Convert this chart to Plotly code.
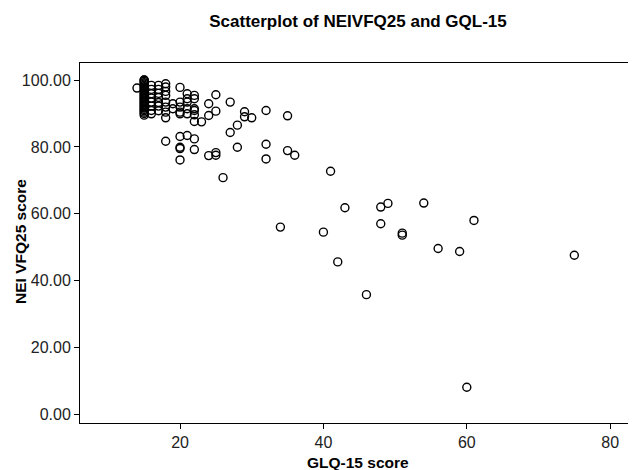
import plotly.graph_objects as go

# GLQ-15 score (x) and NEI VFQ25 score (y)
glq15 = (
    [14]
    + [15] * 28
    + [16] * 8
    + [17] * 7
    + [18] * 9
    + [19] * 2
    + [20] * 9
    + [21] * 6
    + [22] * 8
    + [23]
    + [24] * 3
    + [25] * 4
    + [26]
    + [27] * 2
    + [28] * 2
    + [29] * 2
    + [30]
    + [32] * 3
    + [34]
    + [35] * 2
    + [36]
    + [40, 41, 42, 43, 46, 48, 48, 49, 51, 51, 54, 56, 59, 60, 61, 75]
)
vfq25 = (
    [97.6]
    + [100, 100, 99.6, 99.2, 98.8, 98.4, 98.0, 97.6, 97.2, 96.8, 96.4, 96.0, 95.6, 95.2,
       94.8, 94.4, 94.0, 93.6, 93.2, 92.8, 92.4, 92.0, 91.6, 91.2, 90.8, 90.4, 90.0, 89.5]
    + [98.4, 97.2, 95.9, 94.6, 93.4, 92.2, 90.9, 89.9]
    + [98.4, 97.2, 96.0, 94.8, 93.3, 92.2, 90.8]
    + [98.9, 97.9, 96.6, 95.4, 93.4, 91.9, 90.4, 88.7, 81.7]
    + [92.9, 91.4]
    + [97.8, 93.4, 91.9, 90.4, 89.9, 83.1, 79.9, 79.5, 76.1]
    + [95.9, 94.4, 93.4, 91.4, 89.9, 83.4]
    + [95.4, 94.4, 91.4, 90.9, 89.6, 87.6, 82.4, 79.2]
    + [87.5]
    + [92.9, 89.4, 77.4]
    + [95.6, 90.7, 78.3, 77.5]
    + [70.8]
    + [93.4, 84.3]
    + [86.5, 79.9]
    + [90.5, 89.0]
    + [88.7]
    + [90.9, 80.8, 76.4]
    + [56.0]
    + [89.3, 78.9]
    + [77.5]
    + [54.5, 72.7, 45.6, 61.8, 35.8, 62.0, 57.0, 63.1, 54.2, 53.6, 63.2, 49.6, 48.7, 8.1, 58.0, 47.6]
)

x_ticks = [20, 40, 60, 80]
y_ticks = [0, 20, 40, 60, 80, 100]

title_text = "Scatterplot of NEIVFQ25 and GQL-15"
x_title = "GLQ-15 score"
y_title = "NEI VFQ25 score"

font_family = "Liberation Sans, Arial, sans-serif"

# The page body has an 8px margin, so the figure is sized/offset to compensate.
W, H = 628, 462

fig = go.Figure(
    go.Scatter(
        x=glq15,
        y=vfq25,
        mode="markers",
        marker=dict(symbol="circle-open", size=8, color="black", line=dict(width=1.4, color="black")),
        hoverinfo="x+y",
    )
)

fig.update_layout(
    width=W,
    height=H,
    margin=dict(l=72, r=0, t=55, b=47),
    paper_bgcolor="white",
    plot_bgcolor="white",
    showlegend=False,
    font=dict(family=font_family, color="black"),
    title=dict(
        text="<b>" + title_text + "</b>",
        x=350 / W,
        xanchor="center",
        xref="container",
        y=1 - 13 / H,
        yref="container",
        yanchor="middle",
        font=dict(size=17, family=font_family, color="black"),
    ),
    xaxis=dict(
        range=[6.05, 83.6],
        tickvals=x_ticks,
        ticktext=[str(v) for v in x_ticks],
        showgrid=False,
        zeroline=False,
        showline=True,
        linecolor="black",
        linewidth=1,
        mirror=True,
        ticks="outside",
        ticklen=5,
        tickcolor="black",
        tickfont=dict(size=16, color="#222"),
    ),
    yaxis=dict(
        range=[-2.6, 105.1],
        tickvals=y_ticks,
        ticktext=["%.2f" % v for v in y_ticks],
        showgrid=False,
        zeroline=False,
        showline=True,
        linecolor="black",
        linewidth=1,
        ticks="outside",
        ticklen=5,
        tickcolor="black",
        tickfont=dict(size=16, color="#222"),
    ),
    annotations=[
        dict(
            text="<b>" + x_title + "</b>",
            xref="paper", yref="paper",
            x=(358 - 80) / 556, y=(423 - 462) / 360,
            xanchor="center", yanchor="middle",
            showarrow=False,
            font=dict(size=15.5, family=font_family, color="black"),
        ),
        dict(
            text="<b>" + y_title + "</b>",
            xref="paper", yref="paper",
            x=(20 - 80) / 556, y=(423 - 242) / 360,
            xanchor="center", yanchor="middle",
            textangle=-90,
            showarrow=False,
            font=dict(size=15.5, family=font_family, color="black"),
        ),
    ],
)

fig.write_html("out.html")
